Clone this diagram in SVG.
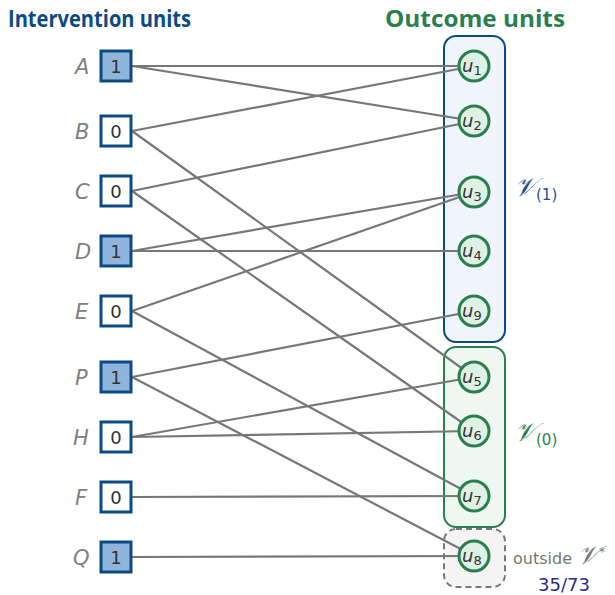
<svg xmlns="http://www.w3.org/2000/svg" width="615" height="595" viewBox="0 0 615 595">
<style>
.title{font-family:"Open Sans","Liberation Sans",sans-serif;font-weight:bold;font-size:24px}
.lab{font-family:"DejaVu Sans","Liberation Sans",sans-serif;font-style:italic;font-size:21px;fill:#808080}
.box{stroke:#0b4a85;stroke-width:3;fill:#fff}
.box.on{fill:#8fb5dd}
.val{font-family:"DejaVu Sans","Liberation Sans",sans-serif;font-size:18px;fill:#333;text-anchor:middle}
.node{fill:#dff0e4;stroke:#2a7f4f;stroke-width:3}
.u{font-family:"DejaVu Sans","Liberation Sans",sans-serif;font-style:italic;font-size:18px;fill:#333}
.sub{font-style:normal;font-size:13px}
.edge{stroke:#777;stroke-width:2.2;fill:none}
.cal{font-family:"DejaVu Serif","Liberation Serif",serif;font-style:italic;font-size:26px}
</style>
<text class="title" x="8" y="27" fill="#0b4a85" textLength="183" lengthAdjust="spacingAndGlyphs">Intervention units</text>
<text class="title" x="385" y="27" fill="#2a7f4f" textLength="180" lengthAdjust="spacingAndGlyphs">Outcome units</text>
<g id="groups">
<rect id="V1" x="444" y="36" width="61" height="306" rx="12" fill="#eff5fb" stroke="#0b4a85" stroke-width="2"/>
<rect id="V0" x="444" y="347" width="61" height="180" rx="12" fill="#eff7f1" stroke="#2a7f4f" stroke-width="2"/>
<rect id="Vout" x="444" y="529" width="61" height="58" rx="12" fill="#f4f4f4" stroke="#777" stroke-width="2" stroke-dasharray="6,4"/>
</g>
<g id="connectors">
<line class="edge" x1="132" y1="66" x2="474" y2="66"/>
<line class="edge" x1="132" y1="66" x2="474" y2="121"/>
<line class="edge" x1="132" y1="131" x2="474" y2="66"/>
<line class="edge" x1="132" y1="131" x2="474" y2="377"/>
<line class="edge" x1="132" y1="191" x2="474" y2="121"/>
<line class="edge" x1="132" y1="191" x2="474" y2="431"/>
<line class="edge" x1="132" y1="251" x2="474" y2="192"/>
<line class="edge" x1="132" y1="251" x2="474" y2="251"/>
<line class="edge" x1="132" y1="311" x2="474" y2="192"/>
<line class="edge" x1="132" y1="311" x2="474" y2="496"/>
<line class="edge" x1="132" y1="377" x2="474" y2="311"/>
<line class="edge" x1="132" y1="377" x2="474" y2="556"/>
<line class="edge" x1="132" y1="437" x2="474" y2="377"/>
<line class="edge" x1="132" y1="437" x2="474" y2="431"/>
<line class="edge" x1="132" y1="497" x2="474" y2="496"/>
<line class="edge" x1="132" y1="557" x2="474" y2="556"/>
</g>
<g id="A"><text class="lab" x="75" y="74">A</text><rect class="box on" x="101" y="51" width="30" height="30"/><text class="val" x="116" y="73">1</text></g>
<g id="B"><text class="lab" x="75" y="139">B</text><rect class="box" x="101" y="116" width="30" height="30"/><text class="val" x="116" y="138">0</text></g>
<g id="C"><text class="lab" x="75" y="199">C</text><rect class="box" x="101" y="176" width="30" height="30"/><text class="val" x="116" y="198">0</text></g>
<g id="D"><text class="lab" x="75" y="259">D</text><rect class="box on" x="101" y="236" width="30" height="30"/><text class="val" x="116" y="258">1</text></g>
<g id="E"><text class="lab" x="75" y="319">E</text><rect class="box" x="101" y="296" width="30" height="30"/><text class="val" x="116" y="318">0</text></g>
<g id="P"><text class="lab" x="75" y="385">P</text><rect class="box on" x="101" y="362" width="30" height="30"/><text class="val" x="116" y="384">1</text></g>
<g id="H"><text class="lab" x="73" y="445">H</text><rect class="box" x="101" y="422" width="30" height="30"/><text class="val" x="116" y="444">0</text></g>
<g id="F"><text class="lab" x="75" y="505">F</text><rect class="box" x="101" y="482" width="30" height="30"/><text class="val" x="116" y="504">0</text></g>
<g id="Q"><text class="lab" x="73" y="565">Q</text><rect class="box on" x="101" y="542" width="30" height="30"/><text class="val" x="116" y="564">1</text></g>
<g id="u1"><circle class="node" cx="474" cy="66" r="15"/><text class="u" x="462" y="72">u<tspan class="sub" dy="3">1</tspan></text></g>
<g id="u2"><circle class="node" cx="474" cy="121" r="15"/><text class="u" x="462" y="127">u<tspan class="sub" dy="3">2</tspan></text></g>
<g id="u3"><circle class="node" cx="474" cy="192" r="15"/><text class="u" x="462" y="198">u<tspan class="sub" dy="3">3</tspan></text></g>
<g id="u4"><circle class="node" cx="474" cy="251" r="15"/><text class="u" x="462" y="257">u<tspan class="sub" dy="3">4</tspan></text></g>
<g id="u9"><circle class="node" cx="474" cy="311" r="15"/><text class="u" x="462" y="317">u<tspan class="sub" dy="3">9</tspan></text></g>
<g id="u5"><circle class="node" cx="474" cy="377" r="15"/><text class="u" x="462" y="383">u<tspan class="sub" dy="3">5</tspan></text></g>
<g id="u6"><circle class="node" cx="474" cy="431" r="15"/><text class="u" x="462" y="437">u<tspan class="sub" dy="3">6</tspan></text></g>
<g id="u7"><circle class="node" cx="474" cy="496" r="15"/><text class="u" x="462" y="502">u<tspan class="sub" dy="3">7</tspan></text></g>
<g id="u8"><circle class="node" cx="474" cy="556" r="15"/><text class="u" x="462" y="562">u<tspan class="sub" dy="3">8</tspan></text></g>
<text x="514" y="196" fill="#1f4e99"><tspan class="cal">𝒱</tspan><tspan font-family="DejaVu Sans,sans-serif" font-size="15" dy="4">(1)</tspan></text>
<text x="514" y="441" fill="#2a7f4f"><tspan class="cal">𝒱</tspan><tspan font-family="DejaVu Sans,sans-serif" font-size="15" dy="4">(0)</tspan></text>
<text x="513" y="564" fill="#777" font-family="DejaVu Sans,sans-serif" font-size="16">outside <tspan class="cal" font-size="19">𝒱</tspan><tspan font-size="12" dy="-8">*</tspan></text>
<text x="538" y="591" fill="#2b2b8c" font-family="DejaVu Sans,sans-serif" font-size="18">35/73</text>
</svg>
